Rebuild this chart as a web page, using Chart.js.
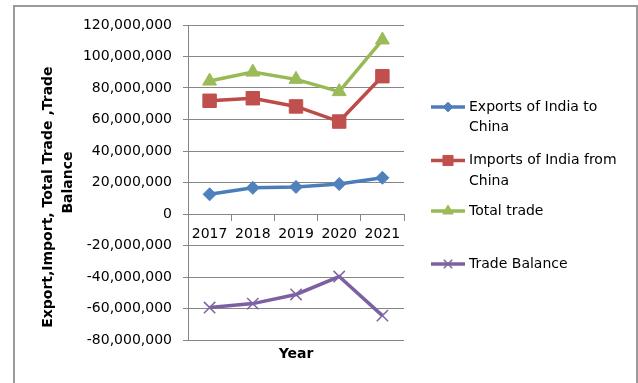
<!DOCTYPE html>
<html><head><meta charset="utf-8">
<script src="https://cdn.jsdelivr.net/npm/chart.js@4.4.0/dist/chart.umd.min.js"></script>
<style>html,body{margin:0;padding:0;background:#fff;}</style>
</head><body>
<canvas id="c" width="638" height="383"></canvas>
<script>
const years = ['2017', '2018', '2019', '2020', '2021'];
const exportsToChina = [12500000, 16600000, 17200000, 19000000, 23000000];
const importsFromChina = [71900000, 73500000, 68300000, 58700000, 87500000];
const totalTrade = [84400000, 90100000, 85500000, 77700000, 110500000];
const tradeBalance = [-59400000, -56900000, -51100000, -39700000, -64500000];
const seriesNames = ['Exports of India to China', 'Imports of India from China', 'Total trade', 'Trade Balance'];
const yMin = -80000000, yMax = 120000000, yStep = 20000000;
const xTitle = 'Year';
const yTitle = ['Export,Import, Total Trade ,Trade      ', 'Balance'];

const FONT = 'DejaVu Sans';
const GRID = '#868686';

const legendY = [107, 160.5, 211, 264];

const framePlugin = {
  id: 'frame',
  beforeDraw(chart) {
    const ctx = chart.ctx;
    ctx.save();
    ctx.fillStyle = '#fff';
    ctx.fillRect(0, 0, chart.width, chart.height);
    ctx.strokeStyle = '#9a9a9a';
    ctx.lineWidth = 2;
    ctx.strokeRect(14, 6, 623, 420);
    ctx.restore();
  }
};

const legendPlugin = {
  id: 'sideLegend',
  afterDraw(chart) {
    const ctx = chart.ctx;
    ctx.save();
    ctx.font = '14px "' + FONT + '"';
    ctx.textBaseline = 'middle';
    ctx.textAlign = 'left';
    chart.data.datasets.forEach((ds, i) => {
      const y = legendY[i];
      ctx.strokeStyle = ds.borderColor;
      ctx.lineWidth = 3.5;
      ctx.beginPath(); ctx.moveTo(431, y); ctx.lineTo(465, y); ctx.stroke();
      ctx.fillStyle = ds.pointBackgroundColor;
      ctx.strokeStyle = ds.pointBorderColor;
      ctx.lineWidth = ds.pointBorderWidth;
      Chart.helpers.drawPoint(ctx, { pointStyle: ds.pointStyle, rotation: 0, radius: ds.legendRadius, borderWidth: ds.pointBorderWidth }, 448, y);
      const words = ds.label.split(' ');
      const lines = [];
      let cur = '';
      words.forEach(w => {
        const t = cur ? cur + ' ' + w : w;
        if (ctx.measureText(t).width > 158 && cur) { lines.push(cur); cur = w; } else cur = t;
      });
      lines.push(cur);
      ctx.fillStyle = '#000';
      lines.forEach((l, k) => ctx.fillText(l, 469, y + k * 20.5));
    });
    ctx.restore();
  }
};

const mk = (label, data, line, fill, style, radius, pbw) => ({
  label, data,
  borderColor: line, backgroundColor: fill,
  pointBackgroundColor: fill, pointBorderColor: fill,
  pointStyle: style, pointRadius: radius, pointHoverRadius: radius,
  pointBorderWidth: pbw, borderWidth: 3.5, tension: 0,
  legendRadius: radius * 0.75
});

const datasets = [
  mk(seriesNames[0], exportsToChina, '#4A7EBB', '#4F81BD', 'rectRot', 6.5, 1),
  mk(seriesNames[1], importsFromChina, '#BE4B48', '#C0504D', 'rect', 9.5, 1),
  mk(seriesNames[2], totalTrade, '#98B954', '#9BBB59', 'triangle', 8, 1),
  mk(seriesNames[3], tradeBalance, '#7D60A0', '#8064A2', 'crossRot', 8, 1.5)
];

new Chart(document.getElementById('c'), {
  type: 'line',
  data: { labels: years, datasets },
  plugins: [framePlugin, legendPlugin],
  options: {
    responsive: false,
    animation: false,
    devicePixelRatio: 1,
    layout: { padding: { left: 14, top: 25, right: 234, bottom: 0 } },
    plugins: { legend: { display: false }, tooltip: { enabled: false } },
    scales: {
      x: {
        type: 'category',
        position: { y: 0 },
        offset: true,
        grid: { display: true, drawOnChartArea: false, drawTicks: true, tickLength: 6, color: GRID, offset: true },
        border: { display: true, color: GRID, width: 1 },
        ticks: { color: '#000', font: { family: FONT, size: 14 }, padding: 6, maxRotation: 0, autoSkip: false }
      },
      x2: {
        type: 'category',
        position: 'bottom',
        grid: { display: false, drawTicks: false },
        border: { display: false },
        ticks: { display: false },
        title: { display: true, text: xTitle, color: '#000', font: { family: FONT, size: 14, weight: 'bold' }, padding: { top: 0, bottom: 20 } },
        afterFit(s) { s.height = 43; }
      },
      y: {
        min: yMin, max: yMax,
        ticks: { stepSize: yStep, color: '#000', font: { family: FONT, size: 14 }, padding: 11,
          callback: v => Number(v).toLocaleString('en-US') },
        grid: { color: GRID, tickLength: 5, drawTicks: true },
        border: { display: true, color: GRID, width: 1 },
        title: { display: true, text: yTitle, color: '#000', font: { family: FONT, size: 14, weight: 'bold', lineHeight: '20px' }, padding: { top: 24, bottom: 0 } },
        afterFit(s) { s.width = 188 - 14; }
      }
    }
  }
});
</script>
</body></html>
